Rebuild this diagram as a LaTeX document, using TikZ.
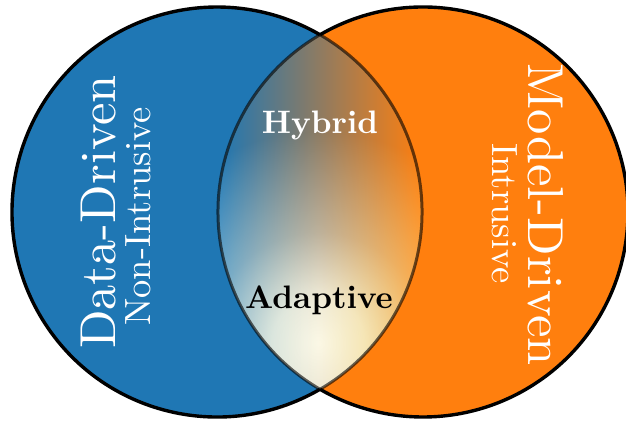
\documentclass[tikz,border=0pt]{standalone}
\usepackage{fontspec}
\usetikzlibrary{fadings}

% Latin Modern, 10pt design cut, scaled to the sizes used below
\newfontfamily\lmreg{lmroman10-regular.otf}
\newfontfamily\lmbold{lmroman10-bold.otf}

\definecolor{dataBlue}{HTML}{1F77B4}
\definecolor{modelOrange}{HTML}{FF7F0E}
\definecolor{glowLeft}{HTML}{B4E8F6}
\definecolor{glowMid}{HTML}{FFFCEA}
\definecolor{glowRight}{HTML}{FFE34A}

% soft radial glow: bright core, fading out well inside the radius
\pgfdeclareradialshading{glowshade}{\pgfpointorigin}{%
  color(0bp)=(pgftransparent!3);
  color(5bp)=(pgftransparent!14);
  color(12bp)=(pgftransparent!58);
  color(23bp)=(pgftransparent!100);
  color(50bp)=(pgftransparent!100)}
\pgfdeclarefading{glow}{\pgfuseshading{glowshade}}

\tikzset{
  outline/.style={draw=black, line width=3.4pt},
  lensline/.style={draw=black, draw opacity=0.6, line width=3pt},
  bigtitle/.style={text=white, inner sep=0pt, font=\lmreg\fontsize{50.5}{50.5}\selectfont},
  subtitle/.style={text=white, inner sep=0pt, font=\lmreg\fontsize{36.5}{36.5}\selectfont},
  lenslabel/.style={inner sep=0pt, font=\lmbold\fontsize{32.5}{32.5}\selectfont},
}

\begin{document}
\begin{tikzpicture}[x=1pt, y=-1pt]
  \useasboundingbox (0,0) rectangle (626,421);

  % circle centres and the two points where the circles cross
  \coordinate (cl) at (217,212);
  \coordinate (cr) at (423,212);
  \coordinate (top) at (320,34.76);
  \coordinate (bot) at (320,389.24);

  % filled discs
  \fill[dataBlue] (cl) circle (205);
  \fill[modelOrange] (cr) circle (205);

  % overlap region: blue-to-orange blend plus a bright glow
  \begin{scope}
    \clip (cl) circle (205);
    \clip (cr) circle (205);
    \shade[left color=dataBlue, right color=modelOrange] (218,20) rectangle (422,400);
    \shade[left color=glowLeft, right color=glowRight, middle color=glowMid, path fading=glow]
      (318,343) circle (230);
  \end{scope}

  % translucent border of the overlap
  \draw[lensline] (top) arc[start angle=-59.84, end angle=59.84, radius=205]
                        arc[start angle=120.16, end angle=239.84, radius=205];

  % outer arcs of both circles
  \draw[outline] (bot) arc[start angle=59.84, end angle=300.16, radius=205];
  \draw[outline] (top) arc[start angle=239.84, end angle=480.16, radius=205];

  % labels
  \node[bigtitle, rotate=90, anchor=base] (data) at (115,212) {Data-Driven};
  \node[subtitle, rotate=90, anchor=base] (nonintr) at (150,216.5) {Non-Intrusive};
  \node[bigtitle, rotate=-90, anchor=base] (model) at (528,214.5) {Model-Driven};
  \node[subtitle, rotate=-90, anchor=base] (intr) at (492,213.5) {Intrusive};
  \node[lenslabel, text=white, anchor=base] (hybrid) at (320,133) {Hybrid};
  \node[lenslabel, text=black, anchor=base] (adaptive) at (319,308) {Adaptive};
\end{tikzpicture}
\end{document}
